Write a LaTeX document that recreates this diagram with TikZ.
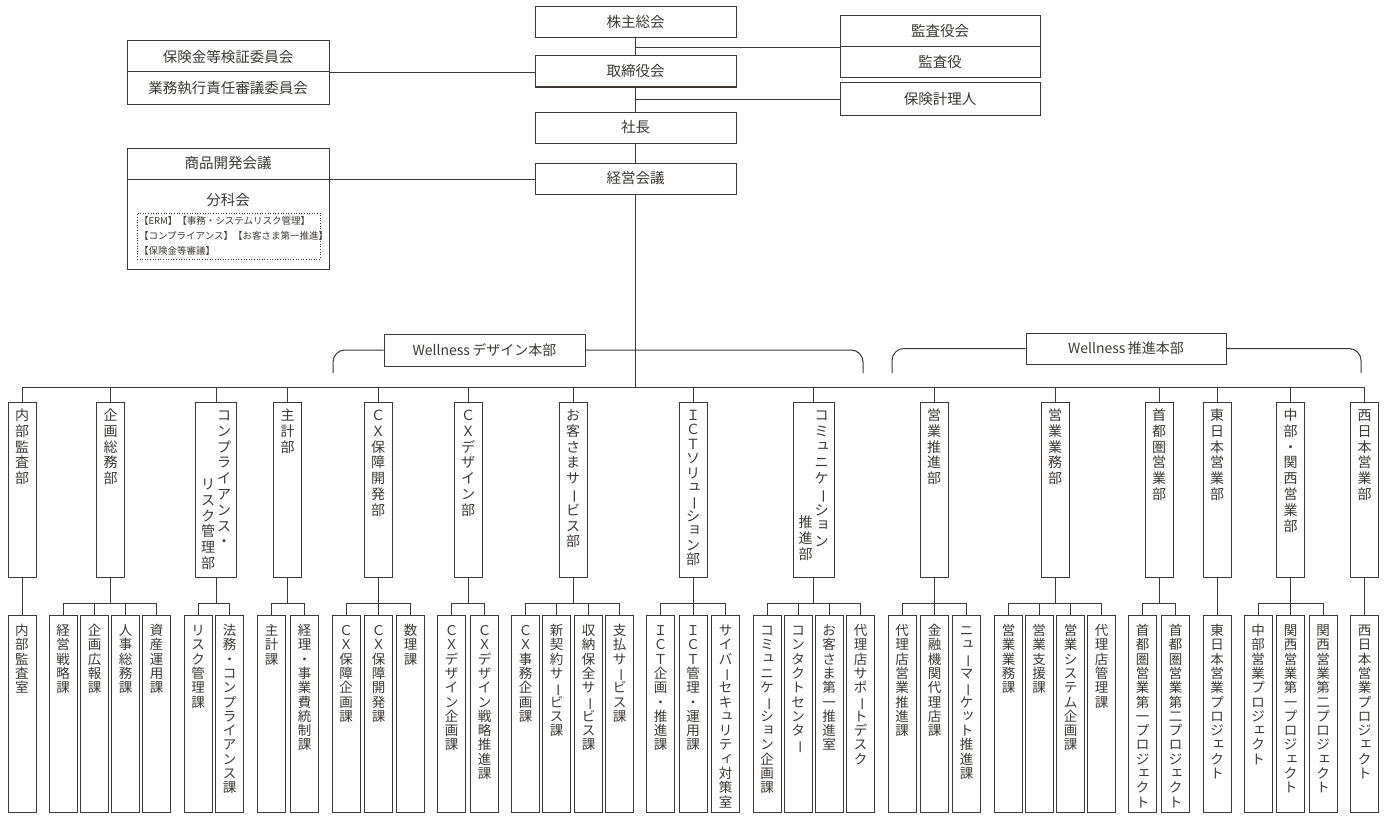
\documentclass[tikz,border=0pt]{standalone}
\usepackage{fontspec}
\setmainfont{Noto Sans CJK JP}
\usepackage{graphicx}
\usepackage{tikz}

\definecolor{ink}{RGB}{60,56,54}

\ExplSyntaxOn
\tl_const:Nn \c_tate_small_tl {ァィゥェォッャュョゃゅょっ}
\cs_new_protected:Npn \tate_char:n #1
  {
    \hbox_to_wd:nn {\hsize}
      {
        \hss
        \str_if_eq:nnTF {#1} {ー}
          { \rotatebox[origin=c]{-90}{ー} }
          {
            \tl_if_in:NnTF \c_tate_small_tl {#1}
              { \kern .24em \raise .16em \hbox{#1} }
              { #1 }
          }
        \hss
      }
  }
\NewDocumentCommand \tate { O{} m }
  {
    \vtop
      {
        \hsize = 16pt
        \lineskiplimit = -100pt
        \tl_if_empty:nF {#1} { \baselineskip = #1 }
        \exp_args:No \tl_map_inline:nn {#2} { \tate_char:n {##1} }
      }
  }
\ExplSyntaxOff

\begin{document}
\begin{tikzpicture}[x=1pt, y=-1pt, color=ink, line width=1pt,
  box/.style={draw, inner sep=0pt, minimum width=201pt, minimum height=31pt, font=\fontsize{14.5}{17}\selectfont},
  dept/.style={draw, anchor=north, inner sep=0pt, minimum width=28pt, text height=18pt, text depth=157pt, font=\fontsize{14}{15.8}\selectfont},
  sect/.style={draw, anchor=north, inner sep=0pt, minimum width=28pt, text height=20pt, text depth=177pt, font=\fontsize{13.5}{14.3}\selectfont}]
	\useasboundingbox (0,0) rectangle (1387,816);

	\node[box] (kabunushi) at (635.5,22) {株主総会};
	\node[box] (torishimari) at (635.5,71.5) {取締役会};
	\node[box] (shacho) at (635.5,127.5) {社長};
	\node[box] (keiei) at (635.5,178.5) {経営会議};
	\node[box, minimum width=200pt] (kansayakukai) at (940,31.5) {監査役会};
	\node[box, minimum width=200pt] (kansayaku) at (940,62.5) {監査役};
	\node[box, minimum width=200pt, minimum height=32pt] (keirinin) at (940,99) {保険計理人};
	\node[box, minimum width=202pt] (kensho) at (228,56.5) {保険金等検証委員会};
	\node[box, minimum width=202pt, minimum height=32pt] (shikko) at (228,88) {業務執行責任審議委員会};
	\node[box, minimum width=202pt] (shohin) at (228,163.5) {商品開発会議};
	\node[box, minimum width=202pt, minimum height=90pt] (bunka) at (228,224) {};
	\node[font=\fontsize{14.5}{17}\selectfont] (bunkalbl) at (228,200) {分科会};
	\node[draw, dotted, line width=0.6pt, inner sep=2pt, text width=179pt, minimum height=46pt, align=left,
	      font=\fontsize{9.5}{15}\selectfont] (bunkalist) at (228.5,236)
	     {【ERM】【事務・システムリスク管理】\\【コンプライアンス】【お客さま第一推進】\\【保険金等審議】};

	\draw (kabunushi.south) -- (torishimari.north);
	\draw (torishimari.south) -- (shacho.north);
	\draw (shacho.south) -- (keiei.north);
	\draw (kabunushi.south |- kansayakukai.south west) -- (kansayakukai.south west);
	\draw (torishimari.south |- keirinin.west) -- (keirinin.west);
	\draw (kensho.south east) -- (kensho.south east -| torishimari.west);
	\draw (shohin.south east) -- (shohin.south east -| keiei.west);

	\node[box, minimum height=32pt, font=\fontsize{14}{17}\selectfont] (design) at (484.5,350) {Wellness\,デザイン本部};
	\node[box, minimum width=200pt, font=\fontsize{14}{17}\selectfont] (suishin) at (1126,348.5) {Wellness\,推進本部};
	\coordinate (designL) at (333,373);
	\coordinate (designR) at (863,373);
	\coordinate (suishinL) at (892,373);
	\coordinate (suishinR) at (1361,373);
	\draw[rounded corners=12pt] (design.west) -| (designL);
	\draw[rounded corners=12pt] (design.east) -| (designR);
	\draw[rounded corners=12pt] (suishin.west) -| (suishinL);
	\draw[rounded corners=12pt] (suishin.east) -| (suishinR);

	\coordinate (bus) at (0,387);
	\coordinate (subbus) at (0,603);

	\foreach \n/\x/\lab in {d1/22/内部監査部,d2/110.5/企画総務部,d4/287.5/主計部,d5/378/ＣＸ保障開発部,
	    d6/468/ＣＸデザイン部,d7/573/お客さまサービス部,d10/934/営業推進部,
	    d11/1055/営業業務部,d12/1159/首都圏営業部,d13/1217/東日本営業部,d14/1290.5/中部・関西営業部,d15/1364.5/西日本営業部}
	  {\node[dept] (\n) at (\x,402) {\tate{\lab}};}
	\node[dept] (d8) at (693,402) {\tate[14.4pt]{ＩＣＴソリューション部}};
	\node[dept, minimum width=41pt] (d3) at (216,402) {\lower69pt\hbox{\tate{リスク管理部}}\tate{コンプライアンス・}};
	\node[dept, minimum width=41pt] (d9) at (813.5,402) {\lower107pt\hbox{\tate{推進部}}\tate{コミュニケーション}};

	\draw (keiei.south) -- (keiei.south |- bus);
	\draw (d1.north |- bus) -- (d15.north |- bus);
	\foreach \i in {1,...,15} {
	  \draw (d\i.north |- bus) -- (d\i.north);
	  \draw (d\i.south) -- (d\i.south |- subbus);
	}

	\foreach \n/\p/\x/\lab in {s1/d1/22/内部監査室,
	    s2a/d2/63/経営戦略課,s2b/d2/94.5/企画広報課,s2c/d2/125.5/人事総務課,s2d/d2/156.5/資産運用課,
	    s3a/d3/198/リスク管理課,s3b/d3/229.5/法務・コンプライアンス課,
	    s4a/d4/271.5/主計課,s4b/d4/304.5/経理・事業費統制課,
	    s5a/d5/346/ＣＸ保障企画課,s5b/d5/378.5/ＣＸ保障開発課,s5c/d5/410.5/数理課,
	    s6a/d6/451.5/ＣＸデザイン企画課,s6b/d6/484.5/ＣＸデザイン戦略推進課,
	    s7a/d7/525.5/ＣＸ事務企画課,s7b/d7/556.5/新契約サービス課,s7c/d7/588.5/収納保全サービス課,s7d/d7/619.5/支払サービス課,
	    s8a/d8/660.5/ＩＣＴ企画・推進課,s8b/d8/693/ＩＣＴ管理・運用課,s8c/d8/725.5/サイバーセキュリティ対策室,
	    s9a/d9/767/コミュニケーション企画課,s9b/d9/798/コンタクトセンター,s9c/d9/829/お客さま第一推進室,s9d/d9/860.5/代理店サポートデスク,
	    s10a/d10/902/代理店営業推進課,s10b/d10/934.5/金融機関代理店課,s10c/d10/966.5/ニューマーケット推進課,
	    s11a/d11/1008.5/営業業務課,s11b/d11/1039/営業支援課,s11c/d11/1070.5/営業システム企画課,s11d/d11/1101.5/代理店管理課,
	    s12a/d12/1142.5/首都圏営業第一プロジェクト,s12b/d12/1175.5/首都圏営業第二プロジェクト,
	    s13/d13/1217/東日本営業プロジェクト,
	    s14a/d14/1258/中部営業プロジェクト,s14b/d14/1290.5/関西営業第一プロジェクト,s14c/d14/1323/関西営業第二プロジェクト,
	    s15/d15/1364.5/西日本営業プロジェクト}
	  {\node[sect] (\n) at (\x,615) {\tate{\lab}};
	   \draw (\p.south |- subbus) -| (\n.north);}
\end{tikzpicture}
\end{document}
